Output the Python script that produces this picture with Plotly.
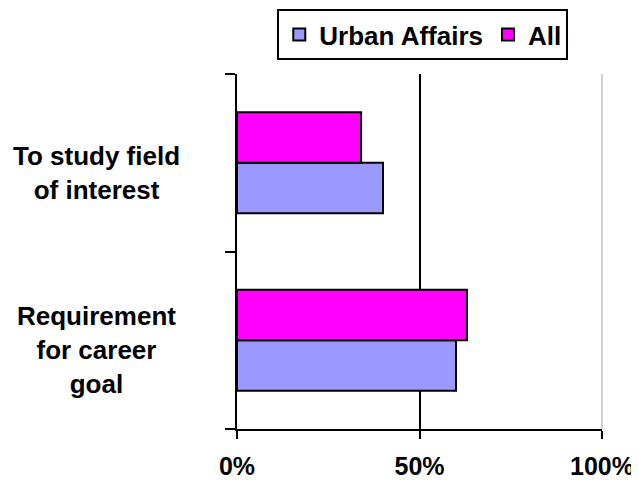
import plotly.graph_objects as go

categories = ["Requirement<br>for career<br>goal", "To study field<br>of interest"]
urban_affairs = [0.60, 0.40]
all_students = [0.63, 0.34]
series_names = ["Urban Affairs", "All"]
x_tickvals = [0, 0.5, 1.0]
x_ticktext = ["0%", "50%", "100%"]

FONT = "Arial, 'Liberation Sans', sans-serif"

fig = go.Figure()
fig.add_trace(go.Bar(
    y=categories, x=urban_affairs, name=series_names[0], orientation="h",
    marker=dict(color="#9999FF", line=dict(color="black", width=2)),
))
fig.add_trace(go.Bar(
    y=categories, x=all_students, name=series_names[1], orientation="h",
    marker=dict(color="#FF00FF", line=dict(color="black", width=2)),
))

# page body has an 8px default margin, so the figure is 8px smaller than the window
fig.update_layout(
    width=631, height=472,
    margin=dict(l=229, r=37, t=66, b=51, autoexpand=False),
    paper_bgcolor="white", plot_bgcolor="white",
    barmode="group", bargap=0.43, bargroupgap=0,
    font=dict(family=FONT, size=26, color="black", weight="bold"),
    showlegend=True,
    legend=dict(
        orientation="h", x=0.509, xanchor="center", y=1.183, yanchor="top",
        bordercolor="black", borderwidth=2, bgcolor="white",
        font=dict(family=FONT, size=26, color="black", weight="bold"),
        itemwidth=30, tracegroupgap=0,
    ),
    xaxis=dict(
        range=[0, 1.0], tickvals=x_tickvals, ticktext=x_ticktext,
        showgrid=True, gridcolor="black", gridwidth=2,
        showline=True, linecolor="black", linewidth=2,
        ticks="outside", ticklen=8, tickwidth=2, tickcolor="black",
        ticklabelstandoff=6, zeroline=False, automargin=False,
        tickfont=dict(family=FONT, size=25, color="black", weight="bold"),
    ),
    yaxis=dict(
        showticklabels=False, showgrid=False, zeroline=False,
        showline=True, linecolor="black", linewidth=2,
        ticks="outside", ticklen=10, tickwidth=2, tickcolor="black",
        tickson="boundaries", automargin=False,
    ),
)

# right plot border (light gray)
fig.add_shape(type="line", xref="paper", yref="paper", x0=1, x1=1, y0=0, y1=1,
              line=dict(color="#D0D0D0", width=2), layer="above")

for cat in categories:
    fig.add_annotation(
        x=-0.384, xref="paper", y=cat, yref="y", text=cat, showarrow=False,
        xanchor="center", yanchor="middle", align="center", yshift=-10,
        font=dict(family=FONT, size=26, color="black", weight="bold"),
    )

fig.write_html("out.html")
